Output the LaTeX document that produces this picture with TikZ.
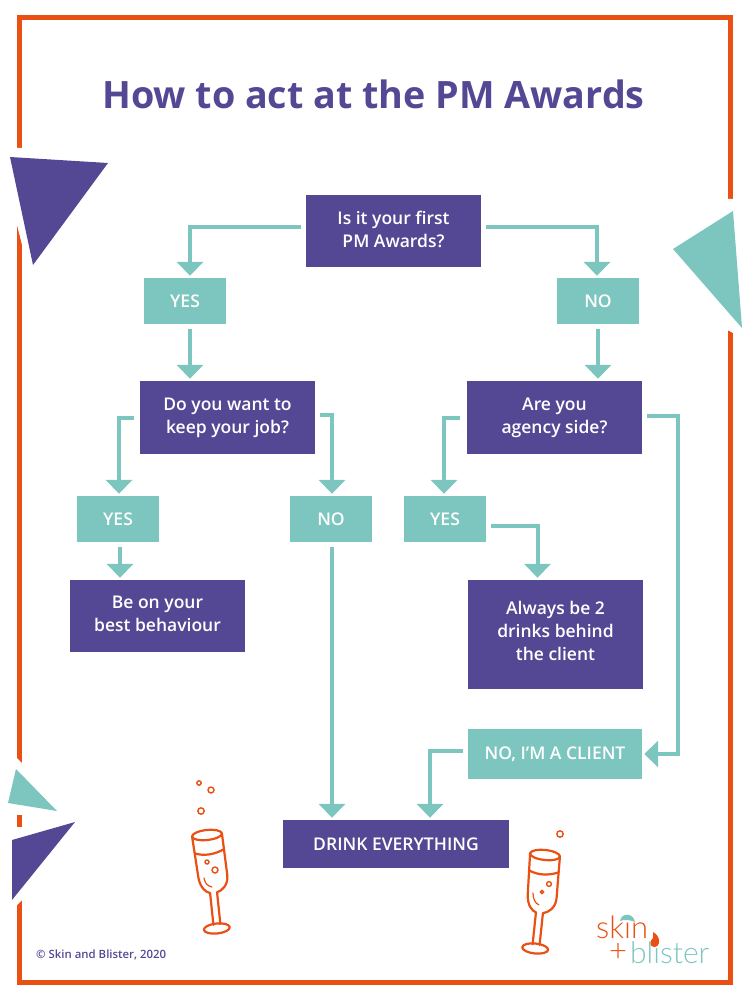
\documentclass[tikz,border=0pt]{standalone}
\usepackage{xcolor}
\usepackage{fontspec}
\usetikzlibrary{arrows.meta}
\setmainfont{Open Sans Semibold}[BoldFont=Open Sans Bold]
\newfontfamily\logofont{Lato Light}
\definecolor{AwardPurple}{RGB}{84,72,148}
\definecolor{AwardTeal}{RGB}{124,198,191}
\definecolor{AwardOrange}{RGB}{234,80,20}
\tikzset{
  askbox/.style={fill=AwardPurple,text=white,inner sep=0pt,align=center,minimum width=175pt,
    font=\fontsize{17.5}{23}\selectfont},
  replybox/.style={fill=AwardTeal,text=white,inner sep=0pt,align=center,minimum width=82pt,minimum height=46pt,
    font=\fontsize{17.5}{23}\selectfont},
  flowline/.style={draw=AwardTeal,line width=4pt,-{Triangle[width=26pt,length=14pt]}},
  glassline/.style={draw=AwardOrange,line width=2.2pt,line cap=round,line join=round},
  glass/.pic={
    \draw[glassline] (0,0) ellipse (15pt and 5pt);
    \draw[glassline] (-14,17) .. controls (-5,21) and (6,20) .. (15,16);
    \draw[glassline] (-15,0) -- (-13,42) .. controls (-12,52) and (-7,57) .. (-3,58) -- (-3,90);
    \draw[glassline] (15,0) -- (16,42) .. controls (16,52) and (9,57) .. (4,58) -- (4,90);
    \draw[glassline] (0,94) ellipse (13pt and 5pt);
  }
}

\begin{document}
\begin{tikzpicture}[x=1pt,y=-1pt]
    \useasboundingbox (0,0) rectangle (750,1000);
    % frame with its gaps
    \draw[AwardOrange,line width=5pt] (19.5,17.5) rectangle (730.5,982);
    \fill[white] (10,148) -- (30,148) -- (30,250) -- (22,245) -- (17,225) -- (10,225) -- cycle;
    \fill[white] (722,199) -- (740,199) -- (740,327) -- (733,333) -- (722,327) -- cycle;
    \fill[white] (10,758) -- (17,758) -- (22,763) -- (30,763) -- (30,815) -- (10,815) -- cycle;
    \fill[white] (10,827) -- (30,827) -- (30,900) -- (22,900) -- (17,905) -- (10,905) -- cycle;
    \fill[AwardOrange] (17,815) rectangle (22,827);
    % corner triangles
    \fill[AwardPurple] (10,157) -- (108,163) -- (33,265) -- cycle;
    \fill[AwardTeal] (673,249) -- (733,211) -- (742,328) -- cycle;
    \fill[AwardTeal] (16,769) -- (8,803) -- (57,811) -- cycle;
    \fill[AwardPurple] (75,822) -- (12,840) -- (12,900) -- cycle;

    \node[text=AwardPurple,font=\fontsize{37.7}{40}\selectfont\bfseries] (title) at (373.5,94.5) {How to act at the PM Awards};

    \node[askbox,minimum height=72pt] (qfirst) at (393.5,231) {\raisebox{3pt}{Is it your first}\\\raisebox{3pt}{PM Awards?}};
    \node[replybox] (yesfirst) at (185,301) {\raisebox{-1pt}{YES}};
    \node[replybox] (nofirst) at (598,301) {\raisebox{-1pt}{NO}};
    \node[askbox,minimum height=73pt] (qjob) at (227.5,417.5) {Do you want to\\keep your job?};
    \node[askbox,minimum height=73pt] (qside) at (554.5,417.5) {Are you\\agency side?};
    \node[replybox] (yesjob) at (118,519) {YES};
    \node[replybox] (nojob) at (331,519) {NO};
    \node[replybox] (yesside) at (445,519) {YES};
    \node[askbox,minimum height=72pt] (behave) at (157.5,616) {\raisebox{5pt}{Be on your}\\\raisebox{5pt}{best behaviour}};
    \node[askbox,minimum height=109pt] (behind) at (555.5,634.5) {\raisebox{7pt}{Always be 2}\\\raisebox{7pt}{drinks behind}\\\raisebox{7pt}{the client}};
    \node[replybox,minimum width=174pt,minimum height=50pt] (noside) at (555,754) {\raisebox{-2pt}{NO, I'M A CLIENT}};
    \node[askbox,minimum width=226pt,minimum height=48pt] (drink) at (396,844) {DRINK EVERYTHING};

    \draw[flowline] ([shift={(-5pt,4pt)}]qfirst.west) -| ([shift={(5pt,2pt)}]yesfirst.north);
    \draw[flowline] ([shift={(5pt,4pt)}]qfirst.east) -| ([shift={(-1pt,2pt)}]nofirst.north);
    \draw[flowline] ([shift={(5pt,-5pt)}]yesfirst.south) -- ([shift={(5pt,2pt)}]qjob.north -| yesfirst.south);
    \draw[flowline] ([yshift=-5pt]nofirst.south) -- ([yshift=2pt]qside.north -| nofirst.south);
    \draw[flowline] ([xshift=-6pt]qjob.west) -| ([shift={(1pt,2pt)}]yesjob.north);
    \draw[flowline] ([shift={(5pt,3pt)}]qjob.east) -| ([shift={(1pt,2pt)}]nojob.north);
    \draw[flowline] ([xshift=-7pt]qside.west) -| ([shift={(-1pt,2pt)}]yesside.north);
    \draw[flowline] ([shift={(5pt,2pt)}]qside.east) -| ([shift={(36pt,0pt)}]qside.east |- noside.east) -- ([xshift=2pt]noside.east);
    \draw[flowline] ([shift={(2pt,-5pt)}]yesjob.south) -- ([shift={(2pt,2pt)}]behave.north -| yesjob.south);
    \draw[flowline] ([shift={(5pt,-7pt)}]yesside.east) -| ([shift={(-18pt,2pt)}]behind.north);
    \draw[flowline] ([shift={(1pt,-5pt)}]nojob.south) -- ([shift={(1pt,2pt)}]drink.north -| nojob.south);
    \draw[flowline] ([shift={(-5pt,3pt)}]noside.west) -| ([shift={(34pt,2pt)}]drink.north);

    % glasses and bubbles
    \pic[rotate=6] at (207,835) {glass};
    \pic[rotate=-6] at (545,855) {glass};
    \foreach \bx/\by/\br in {199/783/2.2,211/790/3,201/811/3.2,207/862/2,215/870/3,560/834/3.2,549/884/2.4,542/892/1.7}
      \draw[AwardOrange,line width=1.4pt] (\bx,\by) circle (\br pt);
    \draw[glassline,line width=1.2pt] (204,878) .. controls (205,884) and (208,886) .. (212,887);
    \draw[glassline,line width=1.2pt] (533,893) .. controls (533,899) and (535,903) .. (539,905);

    \node[text=AwardPurple,anchor=west,inner sep=0pt,font=\fontsize{11.4}{12}\selectfont] (credit) at (36,955) {© Skin and Blister, 2020};

    % logo
    \node[text=AwardOrange,anchor=base west,inner sep=0pt,font=\logofont\fontsize{31}{32}\selectfont] (logoskin) at (596,938) {skin};
    \node[text=AwardOrange,anchor=base west,inner sep=0pt,font=\logofont\fontsize{31}{32}\selectfont] (logoplus) at (609,961) {+};
    \node[text=AwardTeal,anchor=base west,inner sep=0pt,font=\logofont\fontsize{30}{32}\selectfont] (logoblister) at (630,963) {blister};
    \fill[AwardTeal] (620,921) .. controls (621,913) and (633,912) .. (635,922) .. controls (630,920) and (625,919) .. (620,921) -- cycle;
    \fill[AwardOrange] (653,932) .. controls (661,936) and (661,947) .. (654,947) .. controls (649,947) and (650,940) .. (653,938) -- cycle;
  \end{tikzpicture}
\end{document}
